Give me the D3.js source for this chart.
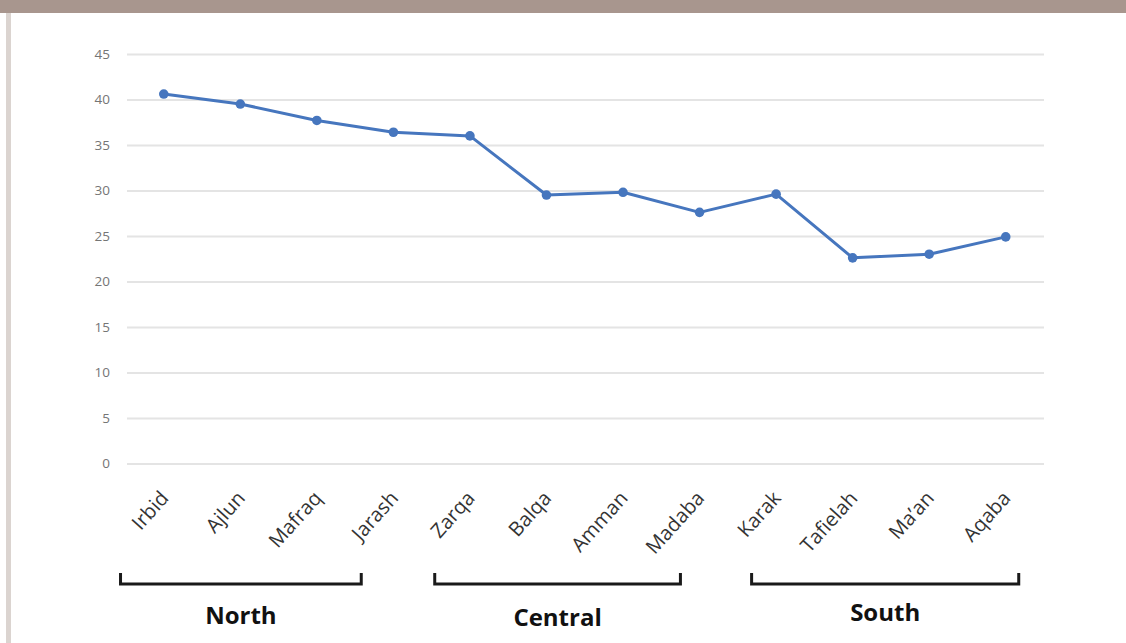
<!DOCTYPE html>
<html>
<head>
<meta charset="utf-8">
<script src="https://cdn.jsdelivr.net/npm/d3@7"></script>
<style>
html,body{margin:0;padding:0;background:#fff;}
svg{display:block;}
</style>
</head>
<body>
<svg id="chart" width="1126" height="643"></svg>
<script>
const categories = ["Irbid","Ajlun","Mafraq","Jarash","Zarqa","Balqa","Amman","Madaba","Karak","Tafielah","Ma\u2019an","Aqaba"];
const values = [40.6, 39.5, 37.7, 36.4, 36.0, 29.5, 29.8, 27.6, 29.6, 22.6, 23.0, 24.9];
const yTicks = [0,5,10,15,20,25,30,35,40,45];
const groupNames = ["North","Central","South"];
const groupFirst = ["Irbid","Zarqa","Karak"];
const groupLast = ["Jarash","Madaba","Aqaba"];

const svg = d3.select("#chart");
const W = 1126, H = 643;

// frame decoration
svg.append("rect").attr("x",0).attr("y",0).attr("width",W).attr("height",13).attr("fill","#a8968e");
svg.append("rect").attr("x",6).attr("y",13).attr("width",5).attr("height",H-13).attr("fill","#dbd4d0");

const x = d3.scaleBand().domain(categories).range([125.5, 1044]).padding(0);
const y = d3.scaleLinear().domain([0,45]).range([463.5, 54]);
const cx = d => x(d) + x.bandwidth()/2;

// gridlines + y labels
const yAxis = d3.axisLeft(y).tickValues(yTicks).tickSize(-(1044-127)).tickPadding(17);
const gy = svg.append("g").attr("transform","translate(127,0)").call(yAxis);
gy.select(".domain").remove();
gy.selectAll(".tick line").attr("stroke","#e4e4e4").attr("stroke-width",2);
gy.selectAll(".tick text").attr("fill","#757575").attr("font-family","'Open Sans', sans-serif").attr("font-size",13.5);

// category labels
const xAxis = d3.axisBottom(x).tickSize(0).tickPadding(0);
const gx = svg.append("g").attr("transform","translate(0,499)").call(xAxis);
gx.select(".domain").remove();
gx.selectAll(".tick text")
  .attr("fill","#333")
  .attr("font-family","'Open Sans', sans-serif")
  .attr("font-size",20)
  .attr("text-anchor","end")
  .attr("dy",0)
  .attr("transform","translate(6,0) rotate(-48)");

// line
const line = d3.line().x((d,i)=>cx(categories[i])).y(d=>y(d));
svg.append("path").datum(values).attr("d",line)
  .attr("fill","none").attr("stroke","#4676be").attr("stroke-width",3).attr("stroke-linejoin","round");
svg.selectAll("circle.pt").data(values).enter().append("circle")
  .attr("class","pt").attr("cx",(d,i)=>cx(categories[i])).attr("cy",d=>y(d)).attr("r",4.8).attr("fill","#4676be");

// group brackets (hand-placed offsets in band units)
const bracketOffsets = [[-0.565,-0.42],[-0.46,-0.25],[-0.32,0.17]];
const labelY = [615, 617, 612];
const bw = x.bandwidth();
groupNames.forEach((g,i)=>{
  const x0 = cx(groupFirst[i]) + bracketOffsets[i][0]*bw;
  const x1 = cx(groupLast[i]) + bracketOffsets[i][1]*bw;
  const top = 573, bot = 584;
  svg.append("path")
    .attr("d",`M${x0},${top}L${x0},${bot}L${x1},${bot}L${x1},${top}`)
    .attr("fill","none").attr("stroke","#1a1a1a").attr("stroke-width",3);
  svg.append("text").attr("x",(x0+x1)/2).attr("y",labelY[i]+9)
    .attr("text-anchor","middle").attr("font-family","'Open Sans', sans-serif")
    .attr("font-weight","bold").attr("font-size",24).attr("fill","#111").text(g);
});
</script>
</body>
</html>
